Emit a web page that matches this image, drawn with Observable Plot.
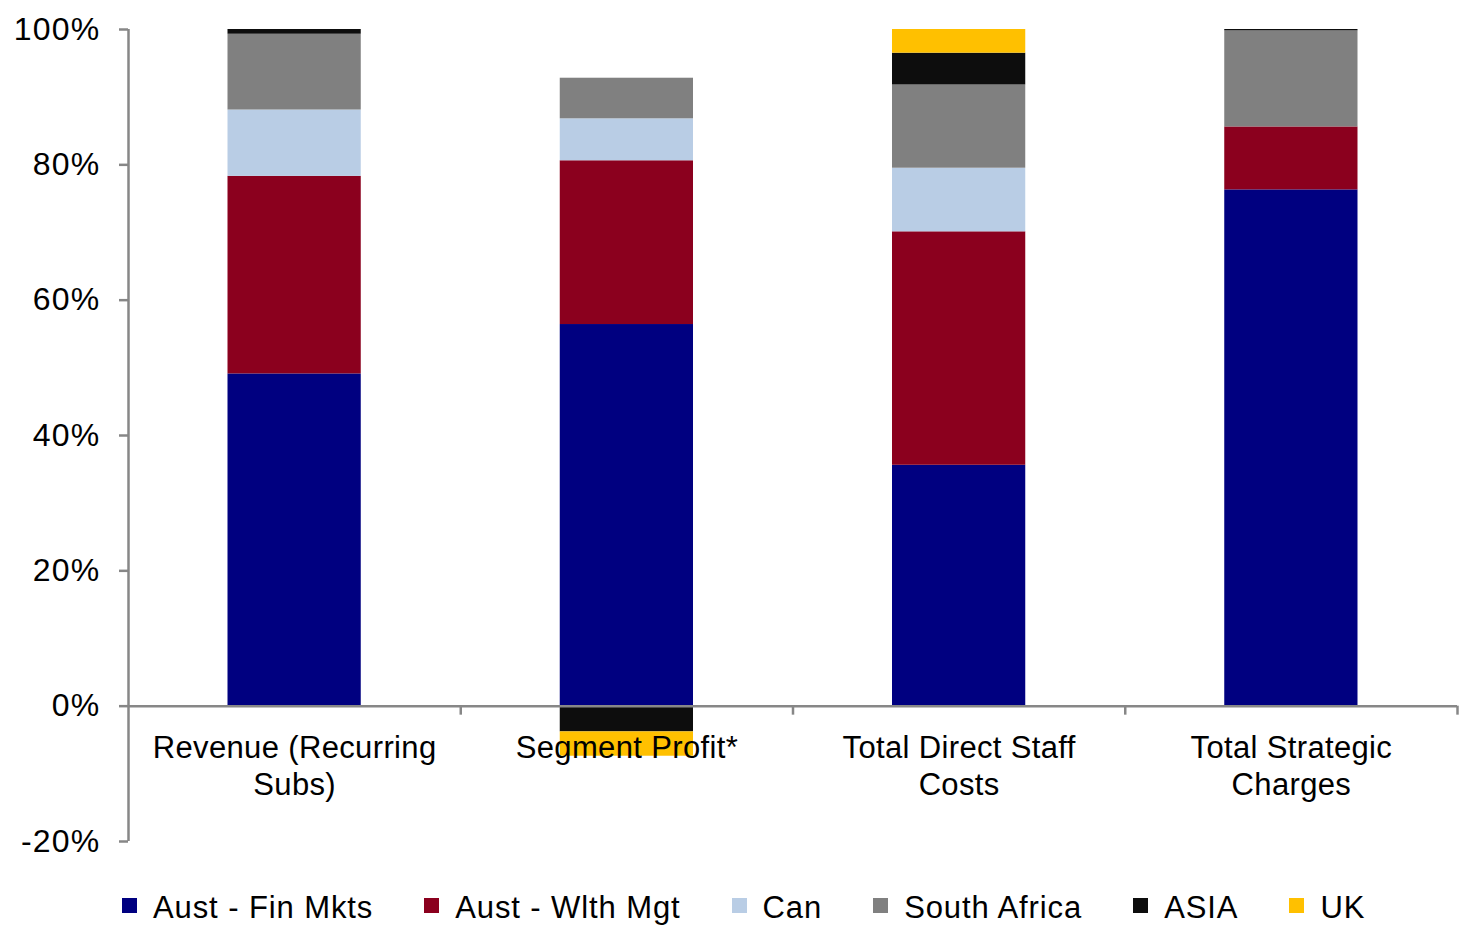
<!DOCTYPE html>
<html>
<head>
<meta charset="utf-8">
<script src="https://cdn.jsdelivr.net/npm/d3@7"></script>
<script src="https://cdn.jsdelivr.net/npm/@observablehq/plot@0.6"></script>
<style>
  html, body { margin: 0; padding: 0; background: #fff; }
  body { width: 1461px; height: 929px; overflow: hidden; font-family: "Liberation Sans", Arial, sans-serif; }
  #legend {
    display: flex; align-items: center; gap: 51px;
    margin-left: 122px; margin-top: 20px;
    font-size: 31px; color: #000; line-height: 36px; letter-spacing: 0.9px;
  }
  #legend .item { display: flex; align-items: center; gap: 16px; }
  #legend .sw { width: 15px; height: 15px; display: inline-block; margin-top: -6px; }
  g[aria-label="y-axis tick label"] text { letter-spacing: 1.2px; }
  g[aria-label="text"] text { letter-spacing: 0.35px; }
</style>
</head>
<body>
<div id="chart"></div>
<div id="legend"></div>
<script>
// Categories along the x axis (label lines split with \n)
const categories = [
  "Revenue (Recurring\nSubs)",
  "Segment Profit*",
  "Total Direct Staff\nCosts",
  "Total Strategic\nCharges"
];

// Segments, bottom to top
const series = ["Aust - Fin Mkts", "Aust - Wlth Mgt", "Can", "South Africa", "ASIA", "UK"];
const colors = ["#000080", "#8B001E", "#B9CDE5", "#808080", "#0D0D0D", "#FFC000"];

// Share of each category, in percent
const finMkts    = [49.1, 56.4, 35.6, 76.3];
const wlthMgt    = [29.2, 24.2, 34.5,  9.3];
const canada     = [ 9.8,  6.2,  9.4,  0.0];
const southAfrica= [11.2,  6.0, 12.3, 14.2];
const asia       = [ 0.7, -3.8,  4.7,  0.2];
const uk         = [ 0.0, -3.6,  3.5,  0.0];

const yTicks = [-20, 0, 20, 40, 60, 80, 100];

const seriesValues = [finMkts, wlthMgt, canada, southAfrica, asia, uk];
const rows = [];
categories.forEach((c, i) => {
  series.forEach((s, k) => {
    rows.push({category: c, i0: i, i1: i + 1, series: s, value: seriesValues[k][i]});
  });
});
const labelRows = categories.map((c, i) => ({label: c, mid: i + 0.5}));
const boundaries = categories.map((c, i) => i + 1);

const axisColor = "#878787";
const font = "Liberation Sans, Arial, sans-serif";

const chart = Plot.plot({
  width: 1461,
  height: 870,
  marginTop: 29,
  marginBottom: 29,
  marginLeft: 128,
  marginRight: 4,
  style: {fontFamily: font, background: "#fff"},
  x: {domain: [0, categories.length], axis: null},
  y: {domain: [-20, 100], axis: null},
  color: {domain: series, range: colors},
  marks: [
    Plot.rectY(rows, Plot.stackY({
      x1: "i0", x2: "i1", y: "value", fill: "series",
      insetLeft: 99.5, insetRight: 99.5
    })),
    // y axis line and ticks
    Plot.ruleX([0], {y1: -20, y2: 100, stroke: axisColor, strokeWidth: 2.5}),
    Plot.axisY({
      ticks: yTicks, tickFormat: d => d + "%", tickSize: 9, tickPadding: 19,
      label: null, stroke: axisColor, strokeWidth: 2.5, fill: "#000", fontSize: 32
    }),
    // zero baseline with category boundary ticks
    Plot.ruleY([0], {x1: 0, x2: categories.length, stroke: axisColor, strokeWidth: 2.5}),
    Plot.ruleX(boundaries, {y1: 0, y2: 0, insetBottom: -9, stroke: axisColor, strokeWidth: 2.5}),
    // category labels under the baseline
    Plot.text(labelRows, {
      x: "mid", y: () => 0, text: "label", lineAnchor: "top", dy: 26,
      fontSize: 31, lineHeight: 1.19, fill: "#000"
    })
  ]
});
document.getElementById("chart").appendChild(chart);

const legend = d3.select("#legend");
series.forEach((s, k) => {
  const item = legend.append("div").attr("class", "item");
  item.append("span").attr("class", "sw").style("background", colors[k]);
  item.append("span").text(s);
});
</script>
</body>
</html>
